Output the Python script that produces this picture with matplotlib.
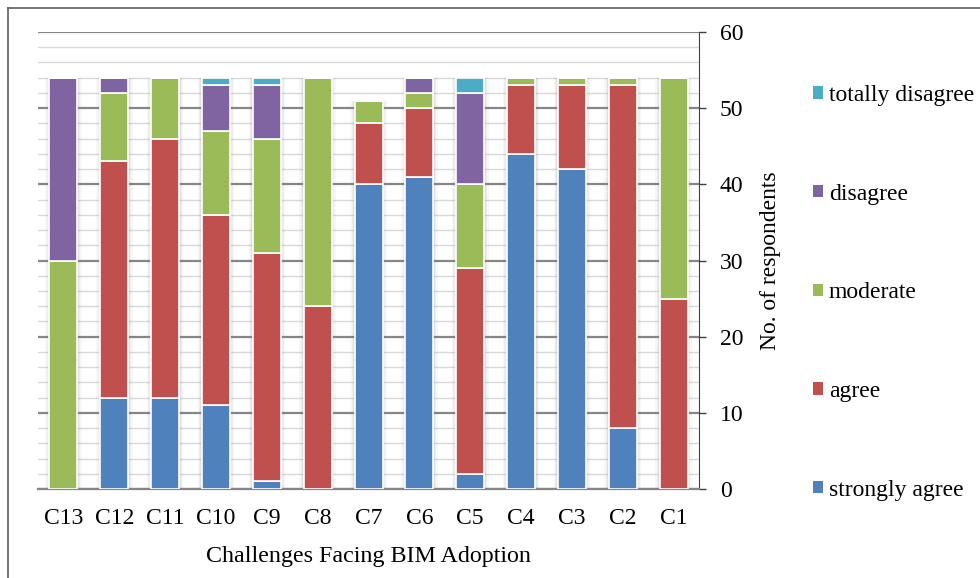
import numpy as np
import matplotlib.pyplot as plt
from matplotlib.lines import Line2D
from matplotlib.patches import Patch

# Challenges, shown left to right as in the source chart
challenges = ['C13', 'C12', 'C11', 'C10', 'C9', 'C8', 'C7', 'C6', 'C5', 'C4', 'C3', 'C2', 'C1']

# Number of respondents per answer, stacked bottom to top
strongly_agree    = [0, 12, 12, 11, 1, 0, 40, 41, 2, 44, 42, 8, 0]
agree             = [0, 31, 34, 25, 30, 24, 8, 9, 27, 9, 11, 45, 25]
moderate          = [30, 9, 8, 11, 15, 30, 3, 2, 11, 1, 1, 1, 29]
disagree          = [24, 2, 0, 6, 7, 0, 0, 2, 12, 0, 0, 0, 0]
totally_disagree  = [0, 0, 0, 1, 1, 0, 0, 0, 2, 0, 0, 0, 0]

series = [strongly_agree, agree, moderate, disagree, totally_disagree]
names = ['strongly agree', 'agree', 'moderate', 'disagree', 'totally disagree']
colors = ['#4F81BD', '#C0504D', '#9BBB59', '#8064A2', '#4BACC6']

plt.rcParams['font.family'] = 'Liberation Serif'

fig = plt.figure(figsize=(9.8, 5.78), dpi=100)
ax = fig.add_axes([0.0388, 0.154, 0.6745, 0.7906])

x = np.arange(len(challenges))
width = 0.55

# soft shadow behind each stack
totals = np.sum(series, axis=0)
for w, a in [(0.72, 0.06), (0.66, 0.08), (0.61, 0.10)]:
    ax.bar(x, totals, width=w, color='#808080', alpha=a, linewidth=0, zorder=2)

bottom = np.zeros(len(challenges))
for vals, col in zip(series, colors):
    vals = np.array(vals)
    ax.bar(x, vals, width=width, bottom=bottom, color=col,
           edgecolor='white', linewidth=1.2, zorder=3)
    bottom += vals

ax.set_xlim(-0.5, len(challenges) - 0.5)
ax.set_ylim(0, 60)

# grid
ax.set_yticks(np.arange(0, 61, 10))
ax.set_yticks(np.arange(0, 61, 2), minor=True)
ax.yaxis.grid(True, which='minor', color='#d9d9d9', linewidth=1.0, zorder=0)
ax.yaxis.grid(True, which='major', color='#868686', linewidth=1.6, zorder=1)
ax.set_axisbelow(True)

ax.yaxis.tick_right()
ax.yaxis.set_label_position('right')
ax.tick_params(axis='y', which='major', direction='out', length=5, width=1,
               color='#404040', labelsize=17, pad=10)
ax.tick_params(axis='y', which='minor', length=0)
ax.tick_params(axis='x', length=0, labelsize=17, pad=14)

ax.set_xticks(x)
ax.set_xticklabels(challenges)

for s in ['top', 'left']:
    ax.spines[s].set_visible(False)
ax.spines['right'].set_color('#404040')
ax.spines['bottom'].set_color('#868686')
ax.spines['bottom'].set_linewidth(1.6)

ax.set_ylabel('No. of respondents', fontsize=17, labelpad=12)
ax.set_xlabel('Challenges Facing BIM Adoption', fontsize=17.3, labelpad=12)

handles = [Patch(facecolor=c, edgecolor='none') for c in colors][::-1]
fig.legend(handles, names[::-1], loc='upper left', bbox_to_anchor=(0.8296, 0.853),
           frameon=False, fontsize=17, labelspacing=3.29, borderpad=0,
           borderaxespad=0, handlelength=0.42, handleheight=0.42,
           handletextpad=0.25)

# outer frame (top and left)
fig.add_artist(Line2D([0.0082, 0.0082], [0, 0.986], color='#606060', linewidth=1.2))
fig.add_artist(Line2D([0.0082, 1.0], [0.986, 0.986], color='#606060', linewidth=1.2))

fig.savefig('out.png', dpi=100)
